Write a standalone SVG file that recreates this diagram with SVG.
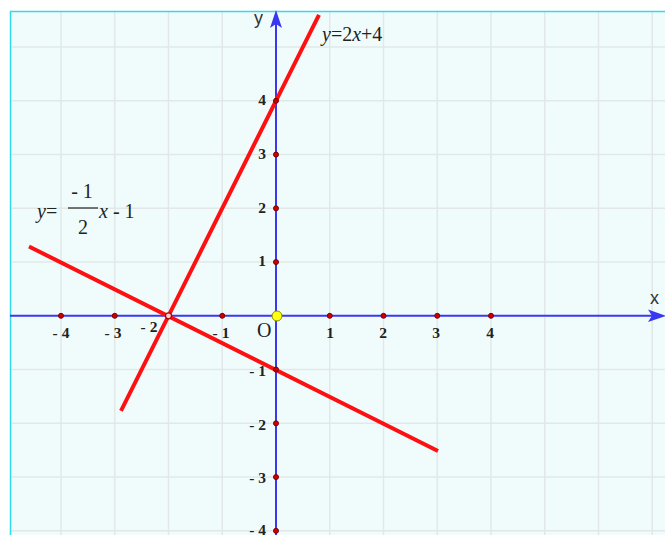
<svg xmlns="http://www.w3.org/2000/svg" width="665" height="535" viewBox="0 0 665 535">
<defs>
<style>
.grid{stroke:#e2e8e8;stroke-width:1.5}
.axis{stroke:#3838f0;stroke-width:2;fill:none}
.fn{stroke:#ff1010;stroke-width:4;stroke-linecap:butt;fill:none}
.dot{fill:#cc0000;stroke:#7a0000;stroke-width:1}
.num{font-family:"Liberation Serif",serif;font-size:15.5px;font-weight:bold;fill:#222}
.eq{font-family:"Liberation Serif",serif;font-size:20px;fill:#222}
.lab{font-family:"Liberation Sans",sans-serif;font-size:18px;fill:#333}
</style>
</defs>
<rect x="0" y="0" width="665" height="535" fill="#ffffff"/>
<rect x="10" y="11" width="655" height="524" fill="#f0fcfc"/>
<g id="grid">
<line class="grid" x1="61" y1="11" x2="61" y2="535"/>
<line class="grid" x1="114.75" y1="11" x2="114.75" y2="535"/>
<line class="grid" x1="168.5" y1="11" x2="168.5" y2="535"/>
<line class="grid" x1="222.25" y1="11" x2="222.25" y2="535"/>
<line class="grid" x1="329.75" y1="11" x2="329.75" y2="535"/>
<line class="grid" x1="383.5" y1="11" x2="383.5" y2="535"/>
<line class="grid" x1="437.25" y1="11" x2="437.25" y2="535"/>
<line class="grid" x1="491" y1="11" x2="491" y2="535"/>
<line class="grid" x1="544.75" y1="11" x2="544.75" y2="535"/>
<line class="grid" x1="598.5" y1="11" x2="598.5" y2="535"/>
<line class="grid" x1="652.25" y1="11" x2="652.25" y2="535"/>
<line class="grid" x1="10" y1="47.05" x2="665" y2="47.05"/>
<line class="grid" x1="10" y1="100.8" x2="665" y2="100.8"/>
<line class="grid" x1="10" y1="154.55" x2="665" y2="154.55"/>
<line class="grid" x1="10" y1="208.3" x2="665" y2="208.3"/>
<line class="grid" x1="10" y1="262.05" x2="665" y2="262.05"/>
<line class="grid" x1="10" y1="369.55" x2="665" y2="369.55"/>
<line class="grid" x1="10" y1="423.3" x2="665" y2="423.3"/>
<line class="grid" x1="10" y1="477.05" x2="665" y2="477.05"/>
<line class="grid" x1="10" y1="530.8" x2="665" y2="530.8"/>
</g>
<path d="M10.5,535 V11.5 H665" fill="none" stroke="#30dcec" stroke-width="1.5"/>
<g id="axes">
<line class="axis" x1="10" y1="315.8" x2="660" y2="315.8"/>
<line class="axis" x1="276" y1="535" x2="276" y2="16"/>
<path d="M276,10 L282,28 L276,24 L270,28 Z" fill="#3838f0"/>
<path d="M666,315.8 L648,309.5 L652,315.8 L648,322 Z" fill="#3838f0"/>
<text class="lab" x="254" y="24">y</text>
<text class="lab" x="650" y="304">x</text>
</g>
<g id="connectors">
<line id="line1" class="fn" x1="319" y1="14.8" x2="121" y2="410.8"/>
<line id="line2" class="fn" x1="29" y1="246.5" x2="438" y2="451"/>
</g>
<g id="xticks">
<circle class="dot" cx="61" cy="315.8" r="2.5"/>
<circle class="dot" cx="114.75" cy="315.8" r="2.5"/>
<circle cx="168.5" cy="315.8" r="3" fill="#ffd0d0" stroke="#aa0000" stroke-width="1.2"/>
<circle class="dot" cx="222.25" cy="315.8" r="2.5"/>
<circle class="dot" cx="329.75" cy="315.8" r="2.5"/>
<circle class="dot" cx="383.5" cy="315.8" r="2.5"/>
<circle class="dot" cx="437.25" cy="315.8" r="2.5"/>
<circle class="dot" cx="491" cy="315.8" r="2.5"/>
<text class="num" x="61" y="338" text-anchor="middle">- 4</text>
<text class="num" x="113" y="338" text-anchor="middle">- 3</text>
<text class="num" x="149" y="332" text-anchor="middle">- 2</text>
<text class="num" x="221" y="338" text-anchor="middle">- 1</text>
<text class="num" x="330" y="338" text-anchor="middle">1</text>
<text class="num" x="383" y="338" text-anchor="middle">2</text>
<text class="num" x="436" y="338" text-anchor="middle">3</text>
<text class="num" x="490" y="338" text-anchor="middle">4</text>
</g>
<g id="yticks">
<circle class="dot" cx="276" cy="100.8" r="2.5"/>
<circle class="dot" cx="276" cy="154.55" r="2.5"/>
<circle class="dot" cx="276" cy="208.3" r="2.5"/>
<circle class="dot" cx="276" cy="262.05" r="2.5"/>
<circle class="dot" cx="276" cy="369.55" r="2.5"/>
<circle class="dot" cx="276" cy="423.3" r="2.5"/>
<circle class="dot" cx="276" cy="477.05" r="2.5"/>
<circle class="dot" cx="276" cy="530.8" r="2.5"/>
<text class="num" x="266" y="105" text-anchor="end">4</text>
<text class="num" x="266" y="159" text-anchor="end">3</text>
<text class="num" x="266" y="213" text-anchor="end">2</text>
<text class="num" x="266" y="266" text-anchor="end">1</text>
<text class="num" x="266" y="376" text-anchor="end">- 1</text>
<text class="num" x="266" y="430" text-anchor="end">- 2</text>
<text class="num" x="266" y="483" text-anchor="end">- 3</text>
<text class="num" x="266" y="535" text-anchor="end">- 4</text>
</g>
<g id="origin">
<circle cx="277" cy="316" r="5" fill="#ffff10" stroke="#8a8a00" stroke-width="1"/>
<text x="257" y="337" font-family="Liberation Serif,serif" font-size="20" fill="#222">O</text>
</g>
<g id="label1">
<text class="eq" x="322" y="41"><tspan font-style="italic">y</tspan>=2<tspan font-style="italic">x</tspan>+4</text>
</g>
<g id="label2">
<text class="eq" x="37" y="218"><tspan font-style="italic">y</tspan>=</text>
<text class="eq" x="82" y="198" text-anchor="middle">- 1</text>
<line x1="68" y1="208" x2="98" y2="208" stroke="#222" stroke-width="1.2"/>
<text class="eq" x="83" y="234" text-anchor="middle">2</text>
<text class="eq" x="99" y="218"><tspan font-style="italic">x</tspan> - 1</text>
</g>
</svg>
